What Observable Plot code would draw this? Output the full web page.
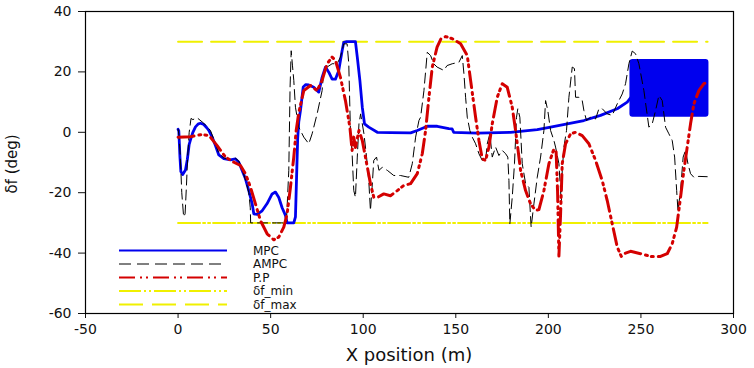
<!DOCTYPE html>
<html><head><meta charset="utf-8">
<script src="https://cdn.jsdelivr.net/npm/d3@7"></script>
<script src="https://cdn.jsdelivr.net/npm/@observablehq/plot@0.6"></script>
<style>
body{margin:0;background:#fff;}
#chart{position:relative;width:754px;height:368px;font-family:"DejaVu Sans",sans-serif;}
</style>
</head><body><div id="chart"></div>
<script>
// ---- data ----
const mpcX = [0,0.4,1.0,1.5,2.5,4.0,5.0,6.0,6.7,8.0,9.4,11,12.1,13.9,15.5,16.6,18.4,20.2,22.0,24.7,28.3,31.0,32.8,34.6,36.4,38.2,40.0,40.9,42.7,45.4,48.1,50.8,52.6,54.4,56.2,58.0,58.9,62.5,63.4,64.0,64.6,65.2,66.1,67.6,69,70.6,73.3,76.0,77.8,79.6,81.4,83.2,85.0,86.8,88.6,89.5,91,95.8,96.8,98.2,99.5,100.7,103.0,107.6,114.7,125.6,129.2,134.6,140,146.2,148.0,148.9,161.6,179.6,194.0,201.2,210.2,219.2,228.2,237.2,242.6,244.6];
const mpcY = [1,0.5,-8,-13,-14,-12.5,-9,-4,-2.5,0,1.8,2.8,3.0,2.6,1.5,0.6,-1.6,-4.4,-7.5,-8.7,-9.1,-8.8,-9.9,-12.6,-15.4,-19.3,-23.6,-27,-27.2,-26,-23.6,-20.4,-19.8,-21.6,-25,-27.5,-30,-30,-28,-15,-2,3.5,7.2,15.0,15.8,15.7,14.9,13.3,18.2,21.6,19.9,17.6,17.6,20.5,27,29.8,30,30,24.9,17.2,8.3,2.8,1.7,0.0,-0.1,-0.2,0.6,2.0,2.0,1.2,1.1,0.0,-0.3,0.0,0.9,1.7,2.8,3.9,5.6,7.8,10,11.6];
// MPC chattering band at the end of the run (low / high steering values)
const mpcChatterX = [244.6, 286.2];
const mpcChatterLow = 5.3;
const mpcChatterHigh = 23.8;

const ampcX = [0,0.5,1.2,2.0,3.0,3.8,4.5,5.2,6.0,7.0,8,10.3,13.9,17.5,20.2,22,24.7,28.3,31.0,32.8,34.6,36.4,38.2,39.0,39.2,45,52,58.5,59.8,60.5,61.1,61.8,62.5,63.4,65.2,67.9,70.6,72.4,75.1,77.8,78.7,80.5,83.2,85.9,87.7,89.5,91.3,92.2,93.1,94.0,94.9,95.8,96.8,97.7,98.6,100.4,101.8,103.0,103.9,104.8,105.7,107.2,108.5,110.3,113.0,116.5,120.1,124.6,126.5,128.3,130.1,131.0,132.8,134.6,136.4,138.1,139.9,143.5,145.3,148.1,151.7,153.5,154.4,155.3,156.2,157.6,158.9,160.7,162.5,164.3,166.1,167.0,168.4,169.7,171.5,173.3,175.1,176.9,178.1,178.7,179.2,180.5,181.7,182.8,183.5,184.6,185.9,187.7,189.5,190.7,192.2,194.0,195.8,197.6,198.5,199.7,201.2,203.0,203.9,205.7,206.6,207.0,207.5,208.4,209.8,211.1,212.9,214.1,214.7,216.5,218.3,219.2,220.6,222.8,225.5,227.3,229.1,231.8,234.5,237.2,239.9,241.7,243.5,245.3,247.1,248.9,251.6,254.3,256.1,257.9,259.7,261.5,263.3,265.1,266.9,268.2,269.3,270.0,271.4,272.8,274.1,275.4,276.8,278.6,281.3,285.8];
const ampcY = [1,-1,-8,-20,-28,-27,-18,-8,0,4.6,4.2,4.8,3.0,0.6,-3.8,-7,-8.5,-9.0,-8.6,-9.5,-12.2,-15.8,-20,-25,-30,-30,-30,-30,-12.6,15,27,22,17.2,8.3,1.7,-1.6,-3.8,-0.5,6.1,13.8,20.5,21.6,22.7,22.7,24.9,29.3,29.3,22.7,0.6,-7.1,-19.3,-21.5,-8.2,2.8,6.1,-0.5,-8.2,-16,-25.9,-18.2,-9.3,-8.2,-12.6,-11.6,-12.6,-14.3,-14.3,-14.9,-10.4,-1.6,3.9,5.0,13.8,26.5,25.4,22.7,21.6,20.5,22.1,22.7,23.2,25.4,19.4,11.6,5.0,0.6,-1.6,-3.8,-7.1,-9.3,-9.3,-3.8,-0.5,-8.2,-4.9,-7.7,-6,-7.1,-8.2,-16,-30.3,-21.5,-10.4,5.0,7.8,5.0,-10.4,-17,-18.2,-31.4,-23.7,-14.9,-8.2,0.6,10.5,7.2,0.6,-2.7,-4.9,-10.4,-19.3,-23.7,-12.6,-4.9,0.6,11.6,21.6,21.1,11.6,11.6,10.5,7.2,3.9,5.0,4.4,7.8,7.8,6.1,5.6,9.4,12.7,16.1,22.7,26.9,26,22.7,13.8,1.7,2.8,7.2,12.2,10.5,1.7,-0.5,-2.7,-8.2,-19.3,-25.9,-19.3,-8.2,-6.0,-10.4,-13.7,-14.9,-14.6,-14.7];

const ppX = [0,6.7,12.1,16.6,21.1,25.6,30.1,33.7,36.4,39.1,41.8,44.5,48.1,51.7,54.4,57.1,58.9,60.7,62.5,63.8,65.2,67.9,71.5,75.1,77.8,80.5,83.2,85.0,87.7,90.4,92.8,94.0,94.9,95.8,96.8,97.7,99.5,101.2,103.9,105.7,107.9,111.1,114.7,118.4,121.9,125.6,129.2,131.9,133.7,135.5,137.3,139.9,142,144.5,148.1,152.6,156.2,158.0,160.7,162.5,164.3,166.1,167.9,169.7,172.4,175.1,177.8,180.5,182.3,185.0,187.7,190.4,193.1,194.9,197.6,200.3,203.0,204.2,205.0,205.7,206.6,207.5,209.3,212,214.7,218.3,221.9,225.5,229.1,231.8,234.5,237.2,239.4,241.7,244.4,249.8,255.2,260.6,264.2,266.9,269.3,271.4,273.2,275,276.8,278.6,281.3,284,285.8];
const ppY = [-1.6,-1.5,-0.8,-1.0,-4.4,-8.2,-9.9,-11,-13.7,-18.2,-23.7,-29.2,-33.6,-35.6,-34.7,-31.4,-27,-18.2,-8.2,0.6,6.5,13.8,15.5,13.8,17.2,22.7,24.9,23.8,18.2,10.5,1.7,-6.0,-1.6,-5,-2,0.6,-2.7,-8.2,-17,-21.5,-21.5,-20.4,-21,-19.3,-17.6,-17.0,-13.7,-7.1,0.6,11.6,21.6,28.2,31,31.7,31.0,29.3,25.4,17.2,5.0,-2.7,-8.8,-9.3,-4.9,2.8,11.6,16.1,14.9,8.3,0.6,-12.6,-19.3,-23.7,-25.9,-25.6,-19.3,-10.4,-5.5,-6.5,-20,-41,-27,-10.4,-3.8,-0.5,0.0,-1.1,-3.8,-9.3,-16,-22.6,-30.3,-38,-41.1,-40,-39.4,-40.2,-41.1,-41.1,-40.2,-36.9,-31.4,-21.5,-12.6,-4.9,2.8,9.4,13.8,16.1,16.6];

const limitX = [0, 286];
const deltaMin = -30;
const deltaMax = 30;

const xTicks = [-50, 0, 50, 100, 150, 200, 250, 300];
const yTicks = [-60, -40, -20, 0, 20, 40];
const seriesNames = ["MPC", "AMPC", "P.P", "δf_min", "δf_max"];
const xTitle = "X position (m)";
const yTitle = "δf (deg)";

// ---- styles ----
const BLUE = "#0000ee", RED = "#d40000", YELLOW = "#f0f000";
const styles = {
  "MPC":    {stroke: BLUE, strokeWidth: 2.8, dash: null},
  "AMPC":   {stroke: "#000", strokeWidth: 1, dash: "10,5"},
  "P.P":    {stroke: RED, strokeWidth: 3, dash: "16,5,2,4,2,5"},
  "δf_min": {stroke: YELLOW, strokeWidth: 2, dash: "22,3,2,3,2,3"},
  "δf_max": {stroke: YELLOW, strokeWidth: 2, dash: "24,9"}
};

const rows = (xs, ys) => xs.map((x, i) => ({x, y: ys[i]}));
const lineOpts = (name) => ({x: "x", y: "y", stroke: styles[name].stroke, strokeWidth: styles[name].strokeWidth,
  strokeDasharray: styles[name].dash, strokeLinejoin: "round", curve: "linear"});

const plot = Plot.plot({
  width: 754, height: 368,
  marginLeft: 85, marginRight: 21, marginTop: 11, marginBottom: 55,
  style: {fontFamily: "'DejaVu Sans', sans-serif", fontSize: "14px", color: "#111", background: "#fff", overflow: "visible"},
  x: {domain: [-50, 300]},
  y: {domain: [-60, 40]},
  marks: [
    Plot.axisX({ticks: xTicks, tickSize: 5, tickPadding: 6, tickFormat: d => String(d), label: null, fontSize: 14}),
    Plot.axisY({ticks: yTicks, tickSize: 7, tickPadding: 7, tickFormat: d => String(d), label: null, fontSize: 14}),
    Plot.line(rows(limitX, limitX.map(() => deltaMin)), lineOpts("δf_min")),
    Plot.line(rows(limitX, limitX.map(() => deltaMax)), lineOpts("δf_max")),
    Plot.line(rows(mpcX, mpcY), lineOpts("MPC")),
    Plot.rect([{x1: mpcChatterX[0], x2: mpcChatterX[1], y1: mpcChatterLow, y2: mpcChatterHigh}],
      {x1: "x1", x2: "x2", y1: "y1", y2: "y2", fill: BLUE, stroke: BLUE, strokeWidth: 2, strokeLinejoin: "round", rx: 2}),
    Plot.line(rows(ampcX, ampcY), lineOpts("AMPC")),
    Plot.line(rows(ppX, ppY), lineOpts("P.P")),
    Plot.frame({stroke: "#000", strokeWidth: 1.2})
  ]
});

const svg = d3.select(plot);
// axis titles
svg.append("text").attr("x", 409).attr("y", 361).attr("text-anchor", "middle")
  .attr("font-size", 18).attr("fill", "#111").text(xTitle);
svg.append("text").attr("transform", "translate(17,164) rotate(-90)").attr("text-anchor", "middle")
  .attr("font-size", 15).attr("fill", "#111").text(yTitle);

// legend
const lg = svg.append("g");
const rowY = [250.5, 264, 277.5, 291, 304.5];
seriesNames.forEach((name, i) => {
  const s = styles[name];
  lg.append("line").attr("x1", 119).attr("x2", 227).attr("y1", rowY[i]).attr("y2", rowY[i])
    .attr("stroke", s.stroke).attr("stroke-width", name === "AMPC" ? 1 : 2.2)
    .attr("stroke-dasharray", name === "AMPC" ? "12,6" : s.dash);
  lg.append("text").attr("x", 253).attr("y", rowY[i]).attr("dy", "0.36em").attr("text-anchor", "start")
    .attr("font-size", 12).attr("fill", "#111").text(name);
});

document.getElementById("chart").appendChild(plot);
</script></body></html>
